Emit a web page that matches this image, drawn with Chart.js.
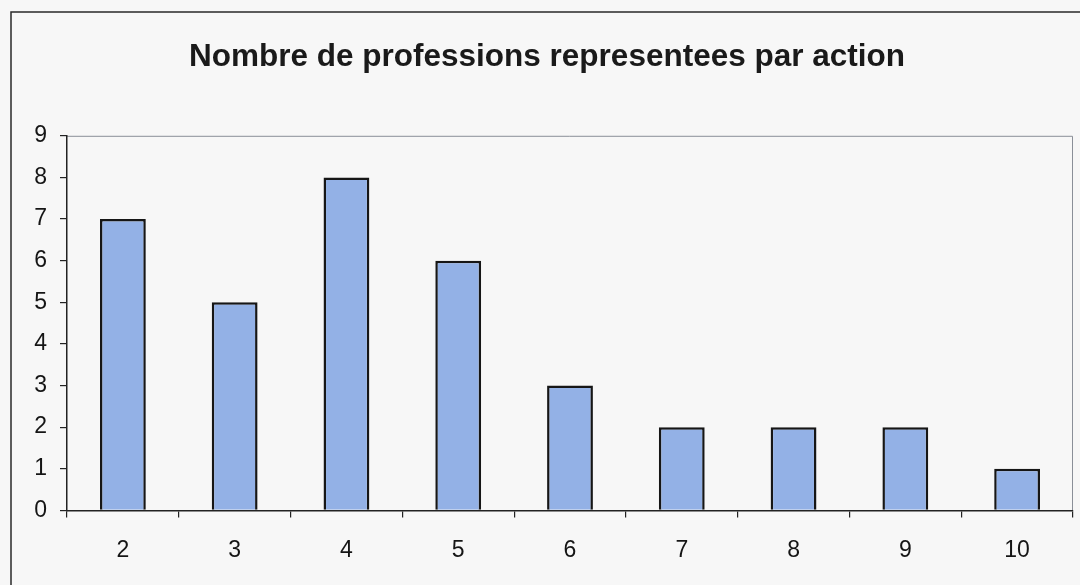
<!DOCTYPE html>
<html><head><meta charset="utf-8">
<script src="https://cdn.jsdelivr.net/npm/chart.js@4.4.1/dist/chart.umd.min.js"></script>
<style>html,body{margin:0;padding:0;background:#f7f7f7;overflow:hidden}</style>
</head><body>
<canvas id="c" width="1080" height="585"></canvas>
<script>
const categories = ['2', '3', '4', '5', '6', '7', '8', '9', '10'];
const values = [7, 5, 8, 6, 3, 2, 2, 2, 1];
const yMin = 0;
const yMax = 9;
const yStep = 1;
const titleText = 'Nombre de professions representees par action';

const FONT = "'Liberation Sans', Arial, sans-serif";

const framePlugin = {
  id: 'frame',
  beforeDraw(chart) {
    const ctx = chart.ctx;
    ctx.save();
    ctx.fillStyle = '#f7f7f7';
    ctx.fillRect(0, 0, chart.width, chart.height);
    ctx.strokeStyle = '#2a2a2a';
    ctx.lineWidth = 1.5;
    ctx.beginPath();
    ctx.moveTo(11, chart.height);
    ctx.lineTo(11, 12);
    ctx.lineTo(chart.width, 12);
    ctx.stroke();
    const a = chart.chartArea;
    ctx.strokeStyle = '#8a8f98';
    ctx.lineWidth = 1;
    ctx.beginPath();
    ctx.moveTo(a.left, a.top + 0.5);
    ctx.lineTo(a.right - 0.5, a.top + 0.5);
    ctx.lineTo(a.right - 0.5, a.bottom);
    ctx.stroke();
    ctx.restore();
  }
};

new Chart(document.getElementById('c'), {
  type: 'bar',
  data: {
    labels: categories,
    datasets: [{
      data: values,
      backgroundColor: '#93b1e6',
      borderColor: '#161616',
      borderWidth: 2.5,
      barPercentage: 0.41,
      categoryPercentage: 1.0
    }]
  },
  options: {
    responsive: false,
    animation: false,
    events: [],
    layout: { padding: { left: 21, right: 7, top: 0, bottom: 2 } },
    plugins: {
      legend: { display: false },
      tooltip: { enabled: false },
      title: {
        display: true,
        text: titleText,
        color: '#1a1a1a',
        font: { family: FONT, size: 31.5, weight: 'bold', lineHeight: 1.2 },
        padding: { top: 38, bottom: 60 }
      }
    },
    scales: {
      x: {
        offset: true,
        grid: { offset: true, drawOnChartArea: false, drawTicks: true, tickLength: 7, color: '#222', lineWidth: 1.2 },
        border: { display: true, color: '#222', width: 1.5 },
        ticks: { color: '#151515', padding: 19, font: { family: FONT, size: 23 } }
      },
      y: {
        min: yMin,
        max: yMax,
        afterFit(scale) { scale.width = 46; },
        grid: { drawOnChartArea: false, drawTicks: true, tickLength: 7, color: '#222', lineWidth: 1.2 },
        border: { display: true, color: '#222', width: 1.5 },
        ticks: { stepSize: yStep, color: '#151515', padding: 13, font: { family: FONT, size: 23 } }
      }
    }
  },
  plugins: [framePlugin]
});
</script>
</body></html>
